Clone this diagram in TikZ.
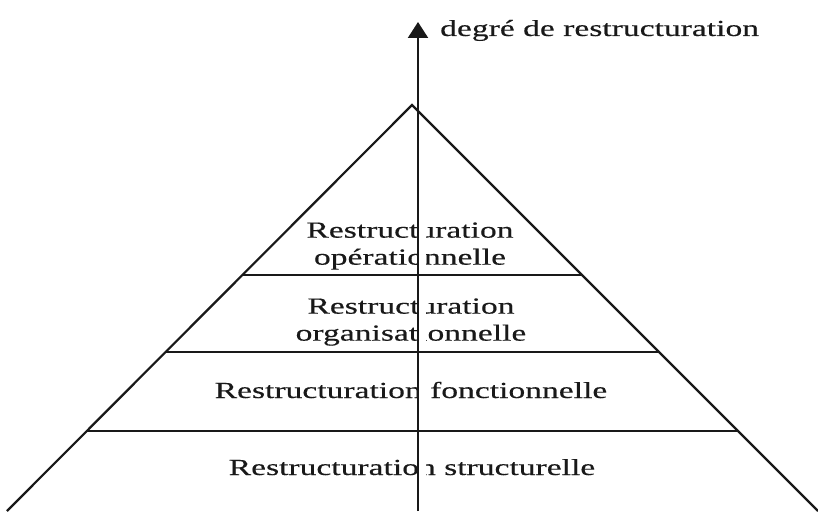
\documentclass[tikz,border=0pt]{standalone}
\usepackage{fontspec}
\setmainfont{Liberation Serif}[FakeStretch=1.46,FakeBold=0.4]
\usetikzlibrary{arrows.meta,calc}
\begin{document}
\begin{tikzpicture}[x=1pt,y=-1pt,
  edge/.style={line width=2.2pt,draw=black!90},
  level/.style={font=\fontsize{23}{27}\selectfont,inner sep=0pt,align=center,text=black!90},
  halo/.style={draw=white,line width=9pt}]
  \useasboundingbox (0,0) rectangle (818,511);

  % pyramid corners and axis ends
  \coordinate (apex) at (412,105);
  \coordinate (bl) at (7,511);
  \coordinate (br) at (818,511);
  \coordinate (axbot) at (418,511);
  \coordinate (axtop) at (418,22);

  % level labels
  \node[level,anchor=center] (op) at (410,246) {Restructuration\\opérationnelle};
  \node[level,anchor=center] (org) at (411,322) {Restructuration\\organisationnelle};
  \node[level,anchor=base] (fon) at (411,398) {Restructuration fonctionnelle};
  \node[level,anchor=base] (str) at (412,475) {Restructuration structurelle};

  % the axis clears a narrow band through the labels
  \draw[halo] (421,215) -- (421,485);

  % sides of the pyramid
  \draw[edge] (bl) -- (apex) -- (br);

  % dividing lines between levels
  \draw[edge] ($(apex)!0.4187!(bl)$) -- ($(apex)!0.4187!(br)$);
  \draw[edge] ($(apex)!0.6084!(bl)$) -- ($(apex)!0.6084!(br)$);
  \draw[edge] ($(apex)!0.803!(bl)$) -- ($(apex)!0.803!(br)$);

  % vertical axis
  \draw[edge,-{Triangle[width=20pt,length=16pt]}] (axbot) -- (axtop);
  \node[level,anchor=base west] (axlabel) at (440,36) {degré de restructuration};
\end{tikzpicture}
\end{document}
